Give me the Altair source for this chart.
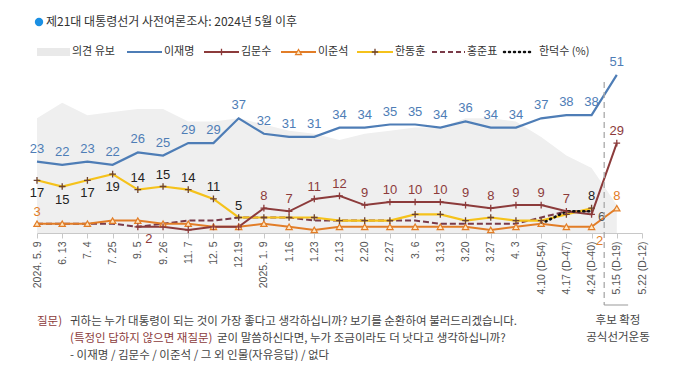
import altair as alt
import pandas as pd

# ---------------- data ----------------
dates = ["2024. 5. 9", "6. 13", "7. 4", "7. 25", "9. 5", "9. 26", "11. 7", "12. 5", "12.19",
         "2025. 1. 9", "1.16", "1.23", "2.13", "2.20", "2.27", "3. 6", "3.13", "3.20", "3.27",
         "4. 3", "4.10 (D-54)", "4.17 (D-47)", "4.24 (D-40)", "5.15 (D-19)", "5.22 (D-12)"]

reserved = [37, 42, 38, 39, 40, 40, 36, 36, 37, 35, 33, 32, 30, 32, 33, 34, 34, 37, 37, 36, 31, 25, 21, 9]
lee_jm = [23, 22, 23, 22, 26, 25, 29, 29, 37, 32, 31, 31, 34, 34, 35, 35, 34, 36, 34, 34, 37, 38, 38, 51]
kim_ms_start = 4
kim_ms = [2, 2, 1, 2, 2, 8, 7, 11, 12, 9, 10, 10, 10, 9, 8, 9, 9, 7, 6, 29]
lee_js = [3, 3, 3, 4, 4, 3, 3, 2, 2, 3, 2, 1, 2, 2, 2, 2, 2, 2, 1, 2, 3, 2, 2, 8]
han_dh = [17, 15, 17, 19, 14, 15, 14, 11, 5, 5, 5, 5, 4, 4, 4, 6, 6, 4, 5, 4, 4, 6, 8]
hong_jp = [3, 3, 3, 3, 2, 3, 4, 4, 5, 5, 5, 4, 4, 4, 4, 4, 3, 3, 3, 3, 5, 7, 7]
han_ds_start = 20
han_ds = [3, 7, 7]

# which points carry value labels
han_dh_below = [0, 1, 2, 3]
han_dh_above = [4, 5, 6, 7, 8, 22]
kim_above = [9, 10, 11, 12, 13, 14, 15, 16, 17, 18, 19, 20, 21, 23]
kim_below = [4]
kim_right = [22]
lee_js_above = [0, 23]
lee_js_below = [22]

# campaign separator position (between 4.24 and 5.15)
separator = [22.5]
bracket_end = [23.45]

title_text = "제21대 대통령선거 사전여론조사: 2024년 5월 이후"
legend_names = ["의견 유보", "이재명", "김문수", "이준석", "한동훈", "홍준표", "한덕수 (%)"]
q_label = "질문)"
q_line1 = "귀하는 누가 대통령이 되는 것이 가장 좋다고 생각하십니까? 보기를 순환하여 불러드리겠습니다."
q_line2a = "(특정인 답하지 않으면 재질문)"
q_line2b = "굳이 말씀하신다면, 누가 조금이라도 더 낫다고 생각하십니까?"
q_line3 = "- 이재명 / 김문수 / 이준석 / 그 외 인물(자유응답) / 없다"
note1 = "후보 확정"
note2 = "공식선거운동"

# ---------------- style ----------------
C_LEE = "#4e7db6"
C_KIM = "#8c3b3b"
C_LJS = "#e27d27"
C_LJS_FILL = "#fde6c2"
C_HDH = "#f5c21b"
C_HDH_MK = "#6e4330"
C_HONG = "#7a3a48"
C_HDS = "#111111"
C_RES = "#efefef"
KFONT = "Noto Sans CJK KR"
NFONT = "Liberation Sans, Arial"
PLUS = "M-1,0L1,0M0,-1L0,1"

n = len(dates)
label_expr = "[" + ",".join("'" + d + "'" for d in dates) + "][datum.value]"

X = alt.X("i:Q", scale=alt.Scale(domain=[0, n - 1], nice=False, zero=False),
          axis=alt.Axis(values=list(range(n)), labelExpr=label_expr, labelAngle=-90,
                        labelFont=NFONT, labelFontSize=10.5, labelColor="#555555",
                        labelPadding=3, domainColor="#c8c8c8", tickColor="#c8c8c8",
                        tickSize=5, grid=False, title=None, labelOverlap=False,
                        labelFlush=False))
Y = alt.Y("v:Q", scale=alt.Scale(domain=[0, 55], nice=False), axis=None)


def sdf(vals, start=0):
    return pd.DataFrame({"i": [start + k for k in range(len(vals))], "v": vals})


def lab(vals, start, idxs, dx, dy, color):
    rows = [{"i": k, "v": vals[k - start], "t": str(vals[k - start])} for k in idxs]
    return alt.Chart(pd.DataFrame(rows)).mark_text(
        dx=dx, dy=dy, color=color, fontSize=13, font=NFONT, baseline="middle"
    ).encode(x=X, y=Y, text="t:N")


one = pd.DataFrame({"a": [0]})

layers = []
layers.append(alt.Chart(sdf(reserved)).mark_area(color=C_RES).encode(x=X, y=Y))

layers.append(alt.Chart(sdf(hong_jp)).mark_line(color=C_HONG, strokeWidth=2, strokeDash=[6, 3]).encode(x=X, y=Y))
layers.append(alt.Chart(sdf(lee_js)).mark_line(color=C_LJS, strokeWidth=2).encode(x=X, y=Y))
layers.append(alt.Chart(sdf(han_dh)).mark_line(color=C_HDH, strokeWidth=2.2).encode(x=X, y=Y))
layers.append(alt.Chart(sdf(kim_ms, kim_ms_start)).mark_line(color=C_KIM, strokeWidth=2).encode(x=X, y=Y))
layers.append(alt.Chart(sdf(han_ds, han_ds_start)).mark_line(color=C_HDS, strokeWidth=2.6, strokeDash=[1, 4], strokeCap="round").encode(x=X, y=Y))
layers.append(alt.Chart(sdf(lee_jm)).mark_line(color=C_LEE, strokeWidth=2.2).encode(x=X, y=Y))

layers.append(alt.Chart(sdf(lee_js)).mark_point(shape="triangle-up", size=40, filled=True, fill=C_LJS_FILL,
                                                 stroke=C_LJS, strokeWidth=1.2, opacity=1).encode(x=X, y=Y))
layers.append(alt.Chart(sdf(han_dh)).mark_point(shape=PLUS, size=45, stroke=C_HDH_MK, strokeWidth=1.3,
                                                 opacity=1).encode(x=X, y=Y))
layers.append(alt.Chart(sdf(kim_ms, kim_ms_start)).mark_point(shape=PLUS, size=45, stroke=C_KIM, strokeWidth=1.3,
                                                               opacity=1).encode(x=X, y=Y))

# value labels
layers.append(lab(lee_jm, 0, list(range(len(lee_jm))), 0, -13, C_LEE))
layers.append(lab(han_dh, 0, han_dh_below, 0, 13, "#222222"))
layers.append(lab(han_dh, 0, han_dh_above, 0, -12, "#222222"))
layers.append(lab(kim_ms, kim_ms_start, kim_above, 0, -12, C_KIM))
layers.append(lab(kim_ms, kim_ms_start, kim_below, 11, 12, C_KIM))
layers.append(lab(kim_ms, kim_ms_start, kim_right, 10, 3, "#555555"))
layers.append(lab(lee_js, 0, lee_js_above, 0, -12, C_LJS))
layers.append(lab(lee_js, 0, lee_js_below, 8, 14, C_LJS))

# separator between pre-campaign and official campaign
sep_df = pd.DataFrame({"i": separator, "i2": bracket_end})
layers.append(alt.Chart(sep_df).mark_rule(color="#a9a9a9", strokeWidth=1.3, strokeDash=[6, 4]).encode(
    x=X, y=alt.value(19.5), y2=alt.value(242.5)))
layers.append(alt.Chart(sep_df).mark_rule(color="#999999", strokeWidth=1).encode(
    x=X, x2="i2:Q", y=alt.value(242.5)))


def txt(s, x, y, size=11, color="#333333", align="left", font=KFONT):
    return alt.Chart(one).mark_text(align=align, baseline="middle", fontSize=size, color=color, font=font).encode(
        x=alt.value(x), y=alt.value(y), text=alt.value(s))


# title
layers.append(alt.Chart(one).mark_point(shape="circle", filled=True, size=70, color="#1a8fe3", opacity=1).encode(
    x=alt.value(2), y=alt.value(-40.5)))
layers.append(txt(title_text, 9, -40.5, size=12, color="#333333"))

# legend
LY = -10.5
layers.append(alt.Chart(one).mark_rect(color="#e9e9e9").encode(
    x=alt.value(0), x2=alt.value(33), y=alt.value(LY - 4), y2=alt.value(LY + 4)))
layers.append(txt(legend_names[0], 35, LY))
layers.append(alt.Chart(one).mark_rule(color=C_LEE, strokeWidth=2).encode(x=alt.value(90), x2=alt.value(125), y=alt.value(LY)))
layers.append(txt(legend_names[1], 127, LY))
layers.append(alt.Chart(one).mark_rule(color=C_KIM, strokeWidth=2).encode(x=alt.value(167), x2=alt.value(202), y=alt.value(LY)))
layers.append(alt.Chart(one).mark_point(shape=PLUS, size=40, stroke=C_KIM, strokeWidth=1.3, opacity=1).encode(x=alt.value(184.5), y=alt.value(LY)))
layers.append(txt(legend_names[2], 204, LY))
layers.append(alt.Chart(one).mark_rule(color=C_LJS, strokeWidth=2).encode(x=alt.value(244), x2=alt.value(279), y=alt.value(LY)))
layers.append(alt.Chart(one).mark_point(shape="triangle-up", size=35, filled=True, fill=C_LJS_FILL, stroke=C_LJS,
                                        strokeWidth=1.2, opacity=1).encode(x=alt.value(261.5), y=alt.value(LY)))
layers.append(txt(legend_names[3], 281, LY))
layers.append(alt.Chart(one).mark_rule(color=C_HDH, strokeWidth=2).encode(x=alt.value(320), x2=alt.value(356), y=alt.value(LY)))
layers.append(alt.Chart(one).mark_point(shape=PLUS, size=40, stroke=C_HDH_MK, strokeWidth=1.3, opacity=1).encode(x=alt.value(338), y=alt.value(LY)))
layers.append(txt(legend_names[4], 358, LY))
layers.append(alt.Chart(one).mark_rule(color=C_HONG, strokeWidth=2, strokeDash=[5, 3]).encode(x=alt.value(395), x2=alt.value(428), y=alt.value(LY)))
layers.append(txt(legend_names[5], 430, LY))
layers.append(alt.Chart(one).mark_rule(color=C_HDS, strokeWidth=2.5, strokeDash=[1, 4], strokeCap="round").encode(x=alt.value(467), x2=alt.value(497), y=alt.value(LY)))
layers.append(txt(legend_names[6], 502, LY))

# question notes
QS = 11.5
layers.append(txt(q_label, 0, 259.5, size=QS, color=C_KIM))
layers.append(txt(q_line1, 33, 259.5, size=QS, color="#444444"))
layers.append(txt(q_line2a, 33, 276.5, size=QS, color=C_KIM))
layers.append(txt(q_line2b, 180, 276.5, size=QS, color="#444444"))
layers.append(txt(q_line3, 33, 293.5, size=QS, color="#444444"))
layers.append(txt(note1, 581, 258.5, size=QS, color="#444444", align="center"))
layers.append(txt(note2, 581, 275.5, size=QS, color="#444444", align="center"))

chart = alt.layer(*layers).properties(
    width=605, height=170.5,
    padding={"left": 29, "top": 54.5, "right": 33, "bottom": 128},
    autosize=alt.AutoSizeParams(type="none"),
    background="white",
).configure_view(stroke=None).configure_axisX(labelOverlap=False)

chart.save("out.html", embed_options={"renderer": "svg", "actions": False})
